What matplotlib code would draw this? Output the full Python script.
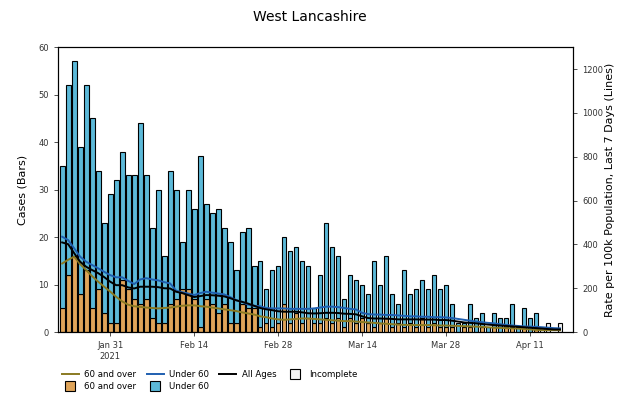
import matplotlib
matplotlib.use("Agg")
import matplotlib.pyplot as plt
import matplotlib.dates as mdates
from matplotlib.lines import Line2D
import numpy as np
import datetime as dt

title = "West Lancashire"
start_date = "2021-01-23"

total_cases = [35, 52, 57, 39, 52, 45, 34, 23, 29, 32, 38, 33, 33, 44,
               33, 22, 30, 16, 34, 30, 19, 30, 26, 37, 27, 25, 26, 22,
               19, 13, 21, 22, 14, 15, 9, 13, 14, 20, 17, 18, 15, 14,
               5, 12, 23, 18, 16, 7, 12, 11, 10, 8, 15, 10, 16, 8,
               6, 13, 8, 9, 11, 9, 12, 9, 10, 6, 2, 2, 6, 3,
               4, 1, 4, 3, 3, 6, 1, 5, 3, 4, 1, 2, 0, 2]
over60_cases = [5, 12, 16, 8, 13, 5, 9, 4, 2, 2, 11, 9, 7, 6,
                7, 3, 2, 2, 6, 7, 9, 9, 7, 1, 7, 6, 4, 6,
                2, 2, 6, 5, 5, 1, 2, 1, 2, 6, 2, 4, 2, 3,
                2, 2, 3, 2, 3, 1, 3, 2, 3, 2, 1, 2, 3, 1,
                2, 1, 2, 1, 3, 1, 2, 1, 1, 1, 0, 1, 1, 0,
                1, 0, 1, 0, 1, 1, 0, 1, 0, 1, 0, 0, 0, 0]
n_incomplete = 4

rate_all = [409, 401, 360, 321, 298, 283, 269, 251, 230, 214, 214, 204, 199, 207,
            207, 207, 205, 200, 199, 184, 178, 169, 160, 164, 169, 168, 166, 163,
            155, 145, 138, 130, 120, 110, 104, 100, 95, 93, 93, 93, 90, 86,
            85, 86, 88, 88, 87, 84, 83, 81, 72, 64, 62, 62, 61, 60,
            58, 58, 58, 58, 57, 57, 57, 55, 55, 52, 48, 44, 42, 40,
            37, 34, 32, 30, 28, 26, 24, 22, 20, 18, 16, 14, 12, 12]
rate_under60 = [435, 420, 382, 344, 321, 306, 291, 275, 260, 250, 250, 234, 219, 240,
                246, 240, 236, 228, 222, 189, 182, 176, 169, 178, 184, 180, 176, 172,
                160, 146, 138, 125, 120, 118, 110, 108, 108, 108, 106, 106, 106, 106,
                108, 112, 116, 116, 114, 110, 106, 103, 88, 82, 80, 80, 78, 78,
                76, 74, 72, 72, 70, 70, 68, 68, 67, 64, 60, 56, 52, 48,
                45, 42, 40, 36, 33, 30, 28, 26, 25, 24, 22, 20, 18, 17]
rate_over60 = [313, 330, 344, 310, 283, 255, 230, 207, 185, 161, 140, 125, 118, 115,
               112, 110, 108, 110, 112, 116, 120, 122, 122, 118, 116, 112, 108, 104,
               100, 96, 90, 85, 80, 72, 68, 62, 58, 56, 58, 60, 62, 62,
               60, 58, 56, 54, 52, 50, 50, 48, 46, 44, 42, 40, 38, 36,
               34, 33, 32, 32, 32, 32, 31, 30, 30, 29, 28, 27, 26, 25,
               24, 22, 20, 19, 18, 17, 16, 14, 12, 10, 9, 9, 9, 9]

tick_dates = ["2021-01-31", "2021-02-14", "2021-02-28", "2021-03-14", "2021-03-28", "2021-04-11"]
tick_labels = ["Jan 31\n2021", "Feb 14", "Feb 28", "Mar 14", "Mar 28", "Apr 11"]

c_over = "#dfa459"
c_under = "#5cb9d8"
c_inc = "#f2f2f2"
c_line_over = "#8a7a22"
c_line_under = "#1f5fb0"

n = len(total_cases)
d0 = dt.date.fromisoformat(start_date)
dates = [d0 + dt.timedelta(days=i) for i in range(n)]
x = mdates.date2num(dates)
tot = np.array(total_cases, float)
ov = np.array(over60_cases, float)
un = tot - ov

fig = plt.figure(figsize=(6.2, 3.93), dpi=100)
ax = fig.add_axes([0.0935, 0.155, 0.831, 0.725])
ax2 = ax.twinx()

comp = slice(0, n - n_incomplete)
inc = slice(n - n_incomplete, n)
w = 0.8
ax.bar(x[comp], ov[comp], width=w, color=c_over, edgecolor="black", linewidth=0.8)
ax.bar(x[comp], un[comp], bottom=ov[comp], width=w, color=c_under, edgecolor="black", linewidth=0.8)
ax.bar(x[inc], tot[inc], width=w, color=c_inc, edgecolor="black", linewidth=0.8)

ax2.plot(x[:len(rate_over60)], rate_over60, color=c_line_over, lw=1.4)
ax2.plot(x[:len(rate_under60)], rate_under60, color=c_line_under, lw=1.4)
ax2.plot(x[:len(rate_all)], rate_all, color="black", lw=1.4)

ax.set_ylim(0, 60)
ax2.set_ylim(0, 1300)
ax.set_yticks(range(0, 61, 10))
ax2.set_yticks(range(0, 1201, 200))
ax.set_xlim(mdates.date2num(d0) - 0.7, mdates.date2num(dates[-1]) + 2.2)
tx = [mdates.date2num(dt.date.fromisoformat(t)) for t in tick_dates]
ax.set_xticks(tx)
ax.set_xticklabels(tick_labels)
for a in (ax, ax2):
    a.tick_params(labelsize=6, length=3, width=0.6, colors="#333333")
    for s in a.spines.values():
        s.set_linewidth(0.8)
ax.set_ylabel("Cases (Bars)", fontsize=8, labelpad=8)
ax2.set_ylabel("Rate per 100k Population, Last 7 Days (Lines)", fontsize=8, labelpad=1)
fig.suptitle(title, fontsize=10, y=0.975)

sq = dict(marker="s", linestyle="none", markersize=6.5, markeredgecolor="black", markeredgewidth=0.8)
handles = [
    Line2D([], [], color=c_line_over, lw=1.4),
    Line2D([], [], markerfacecolor=c_over, **sq),
    Line2D([], [], color=c_line_under, lw=1.4),
    Line2D([], [], markerfacecolor=c_under, **sq),
    Line2D([], [], color="black", lw=1.4),
    Line2D([], [], markerfacecolor=c_inc, **sq),
]
labels = ["60 and over", "60 and over", "Under 60", "Under 60", "All Ages", "Incomplete"]
fig.legend(handles, labels, loc="upper left", bbox_to_anchor=(0.09, 0.074), ncol=4,
           fontsize=6.2, frameon=False, handlelength=2.0, columnspacing=1.2,
           handletextpad=0.6, borderpad=0.2, labelspacing=0.35)

fig.savefig("out.png", dpi=100)
